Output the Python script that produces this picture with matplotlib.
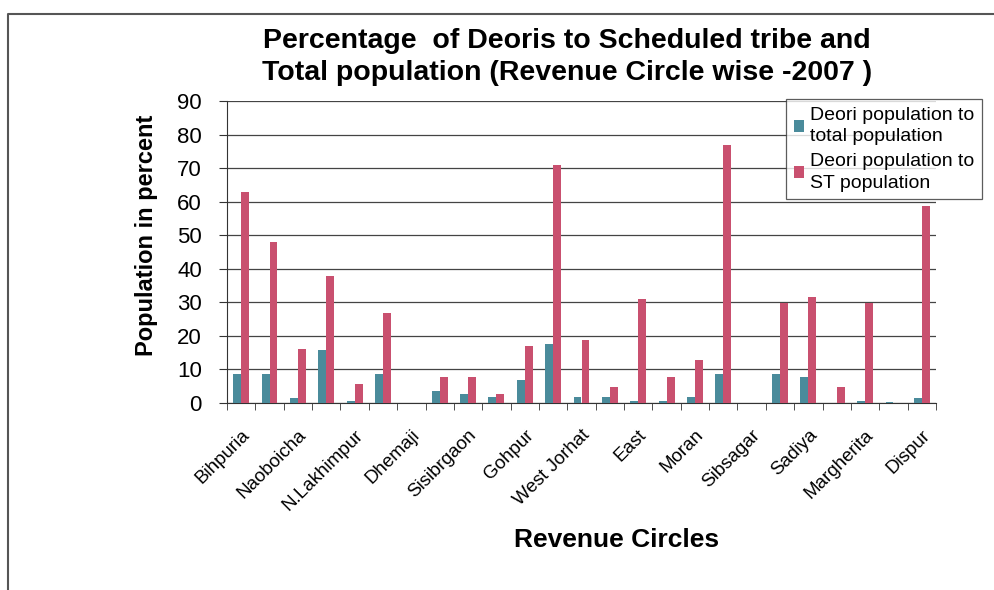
import matplotlib
matplotlib.use("Agg")
import matplotlib.pyplot as plt
from matplotlib.lines import Line2D
import numpy as np

plt.rcParams['font.family'] = ['Liberation Sans', 'DejaVu Sans']

# revenue circles (only every other one is labelled on the axis)
circles = ["Bihpuria", "", "Naoboicha", "", "N.Lakhimpur", "", "Dhemaji", "",
           "Sisibrgaon", "", "Gohpur", "", "West Jorhat", "", "East", "",
           "Moran", "", "Sibsagar", "", "Sadiya", "", "Margherita", "", "Dispur"]

# Deori population as % of total population
toTotal = [8.7, 8.7, 1.5, 15.8, 0.7, 8.7, 0.0, 3.7, 2.8, 1.7, 7.0, 17.7, 1.8,
           1.8, 0.7, 0.7, 1.8, 8.7, 0.0, 8.7, 7.8, 0.0, 0.7, 0.2, 1.5]
# Deori population as % of ST population
toST = [62.8, 47.9, 16.0, 37.9, 5.8, 26.7, 0.0, 7.8, 7.8, 2.8, 17.0, 70.8, 18.7,
        4.8, 30.9, 7.8, 12.8, 77.0, 0.0, 29.9, 31.7, 4.8, 29.9, 0.0, 58.6]

yticks = np.arange(0, 91, 10)

fig = plt.figure(figsize=(9.94, 5.90), dpi=100)
ax = fig.add_axes([227/994, 1-403/590, (936-227)/994, (403-101)/590])

x = np.arange(len(circles))
w = 0.28
ax.bar(x - w/2, toTotal, w, color='#4a8b9b', label="Deori population to\ntotal population", zorder=3)
ax.bar(x + w/2, toST, w, color='#c9506f', label="Deori population to\nST population", zorder=3)

ax.set_xlim(-0.5, len(circles) - 0.5)
ax.set_ylim(0, 90)
ax.set_yticks(yticks)
ax.tick_params(axis='y', labelsize=16, direction='out', length=6, pad=12, color='#333333')
ax.yaxis.grid(True, color='#444444', linewidth=0.9, zorder=0)

# category boundaries as tick marks, labels on the categories
ax.set_xticks(np.arange(-0.5, len(circles)), minor=True)
ax.set_xticks(x)
ax.set_xticklabels(circles, rotation=45, ha='right', rotation_mode='anchor', fontsize=13.5)
ax.tick_params(axis='x', which='major', length=0, pad=17)
ax.tick_params(axis='x', which='minor', length=5, direction='out', color='#333333')

for s in ['top', 'right']:
    ax.spines[s].set_visible(False)
ax.spines['left'].set_color('#333333')
ax.spines['bottom'].set_color('#333333')

leg = ax.legend(loc='upper left', bbox_to_anchor=(786/994, 1-99/590), bbox_transform=fig.transFigure,
                fontsize=14, frameon=True, fancybox=False, edgecolor='#333333',
                handlelength=0.55, handleheight=0.55, handletextpad=0.3, borderpad=0.4,
                labelspacing=0.4, borderaxespad=0)
leg.get_frame().set_linewidth(0.9)
for t in leg.get_texts():
    t.set_linespacing(1.35)

fig.text(567/994, 1-57/590, "Percentage  of Deoris to Scheduled tribe and\nTotal population (Revenue Circle wise -2007 )",
         ha='center', va='center', fontsize=20.5, fontweight='bold', linespacing=1.35)
fig.text(147/994, 1-235/590, "Population in percent", rotation=90, ha='center', va='center',
         fontsize=17, fontweight='bold')
fig.text(617/994, 1-540/590, "Revenue Circles", ha='center', va='center', fontsize=19, fontweight='bold')

# outer frame (top and left edge only)
fig.add_artist(Line2D([8/994, 8/994, 1], [0, 1-14/590, 1-14/590], color='#555555', linewidth=1.5))

fig.savefig("out.png", dpi=100)
